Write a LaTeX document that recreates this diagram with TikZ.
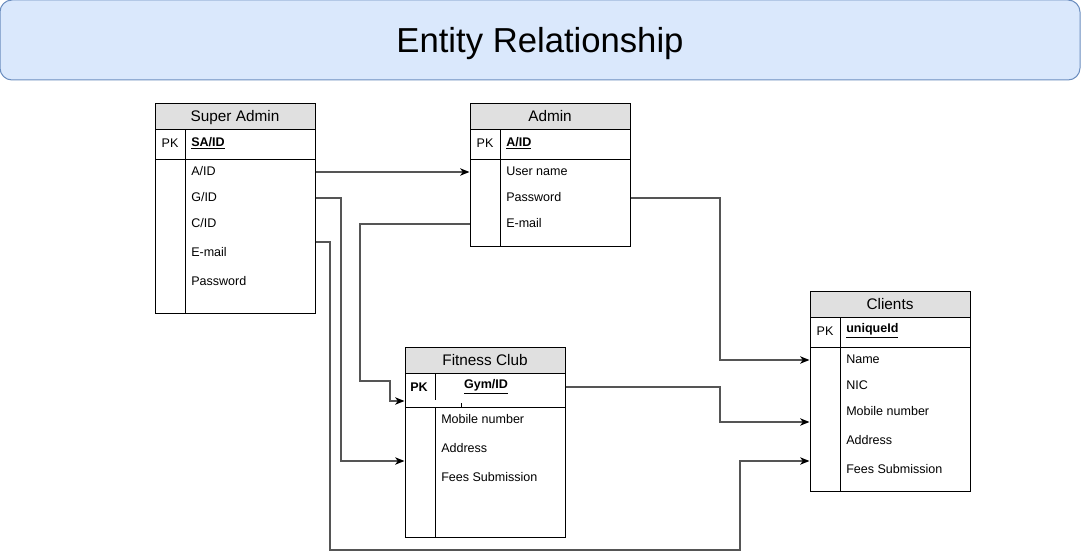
\documentclass[tikz,border=0pt]{standalone}
\usepackage{fontspec}
\setmainfont{Liberation Sans}
\usetikzlibrary{arrows.meta,positioning}
\definecolor{titlefill}{HTML}{DAE8FC}
\definecolor{titledraw}{HTML}{6C8EBF}
\definecolor{hdrfill}{HTML}{E0E0E0}
\definecolor{linkgray}{HTML}{555555}
\tikzset{
  tbl/.style={draw, line width=0.75pt, inner sep=0pt, minimum width=120pt},
  hdr/.style={tbl, fill=hdrfill, minimum height=19.5pt, font=\fontsize{11.5}{13}\selectfont, text depth=0pt},
  fld/.style={anchor=west, inner sep=0pt, font=\fontsize{9.4}{11}\selectfont, yshift=-0.8pt},
  pk/.style={inner sep=0pt, font=\fontsize{9.4}{11}\selectfont, yshift=-0.8pt},
  link/.style={draw=linkgray, line width=1pt, -{Stealth[length=7pt,width=5.5pt,inset=2pt,black]}},
}
\begin{document}
\begin{tikzpicture}[x=0.75pt,y=-0.75pt]
	\useasboundingbox (0,0) rectangle (1081,560);
	% title
	\node[draw=titledraw, fill=titlefill, line width=0.75pt, rounded corners=9pt, minimum width=810pt, minimum height=60pt, font=\fontsize{26}{30}\selectfont, text depth=0pt] (ttl) at (540,40) {Entity Relationship};
	% Super Admin
	\node[tbl, minimum height=138pt] (sa) at (235,221) {};
	\node[hdr] (sah) at (235,116) {Super Admin};
	\draw[line width=0.75pt] (155,159) -- (315,159);
	\draw[line width=0.75pt] (185,129) -- (185,313);
	\node[pk] (sapk) at (170,142) {PK};
	\node[fld] (said) at (191,142) {\underline{\textbf{SA/ID}}};
	\node[fld] (saaid) at (191,170) {A/ID};
	\node[fld] (sagid) at (191,196) {G/ID};
	\node[fld] (sacid) at (191,222) {C/ID};
	\node[fld] (samail) at (191,251) {E-mail};
	\node[fld] (sapass) at (191,280) {Password};
	% Admin
	\node[tbl, minimum height=87.75pt] (adm) at (550,187.5) {};
	\node[hdr] (admh) at (550,116) {Admin};
	\draw[line width=0.75pt] (470,159) -- (630,159);
	\draw[line width=0.75pt] (500,129) -- (500,246);
	\node[pk] (admpk) at (485,142) {PK};
	\node[fld] (admid) at (506,142) {\underline{\textbf{A/ID}}};
	\node[fld] (admuser) at (506,170) {User name};
	\node[fld] (admpass) at (506,196) {Password};
	\node[fld] (admmail) at (506,222) {E-mail};
	% Fitness Club
	\node[tbl, minimum height=123pt] (fc) at (485,455) {};
	\node[hdr] (fch) at (485,360) {Fitness Club};
	\draw[line width=0.75pt] (405,407) -- (565,407);
	\draw[line width=0.75pt] (435,373) -- (435,400);
	\draw[line width=0.75pt] (435,407) -- (435,537);
	\draw[line width=0.5pt] (461,403) -- (461,407);
	\node[pk] (fcpk) at (419,386) {\textbf{PK}};
	\node[pk] (fcid) at (486,386) {\underline{\textbf{Gym/ID}}};
	\node[fld] (fcmob) at (441,418) {Mobile number};
	\node[fld] (fcaddr) at (441,447) {Address};
	\node[fld] (fcfees) at (441,476) {Fees Submission};
	% Clients
	\node[tbl, minimum height=130.5pt] (cl) at (890,404) {};
	\node[hdr] (clh) at (890,304) {Clients};
	\draw[line width=0.75pt] (810,347) -- (970,347);
	\draw[line width=0.75pt] (840,317) -- (840,491);
	\node[pk] (clpk) at (825,330) {PK};
	\node[fld] (clid) at (846,330) {\underline{\textbf{uniqueId}}};
	\node[fld] (clname) at (846,358) {Name};
	\node[fld] (clnic) at (846,384) {NIC};
	\node[fld] (clmob) at (846,410) {Mobile number};
	\node[fld] (claddr) at (846,439) {Address};
	\node[fld] (clfees) at (846,468) {Fees Submission};
	% relations
	\draw[link] (sa.east |- 0,172) -- (adm.west |- 0,172);
	\draw[link] (sa.east |- 0,198) -| (341,461) -- (fc.west |- 0,461);
	\draw[link] (sa.east |- 0,242) -| (330,550) -| (740,461) -- (cl.west |- 0,461);
	\draw[link] (adm.west |- 0,224) -| (360,381) -| (390,401) -- (fc.west |- 0,401);
	\draw[link] (adm.east |- 0,198) -| (720,360) -- (cl.west |- 0,360);
	\draw[link] (fc.east |- 0,387) -| (720,422) -- (cl.west |- 0,422);
\end{tikzpicture}
\end{document}
